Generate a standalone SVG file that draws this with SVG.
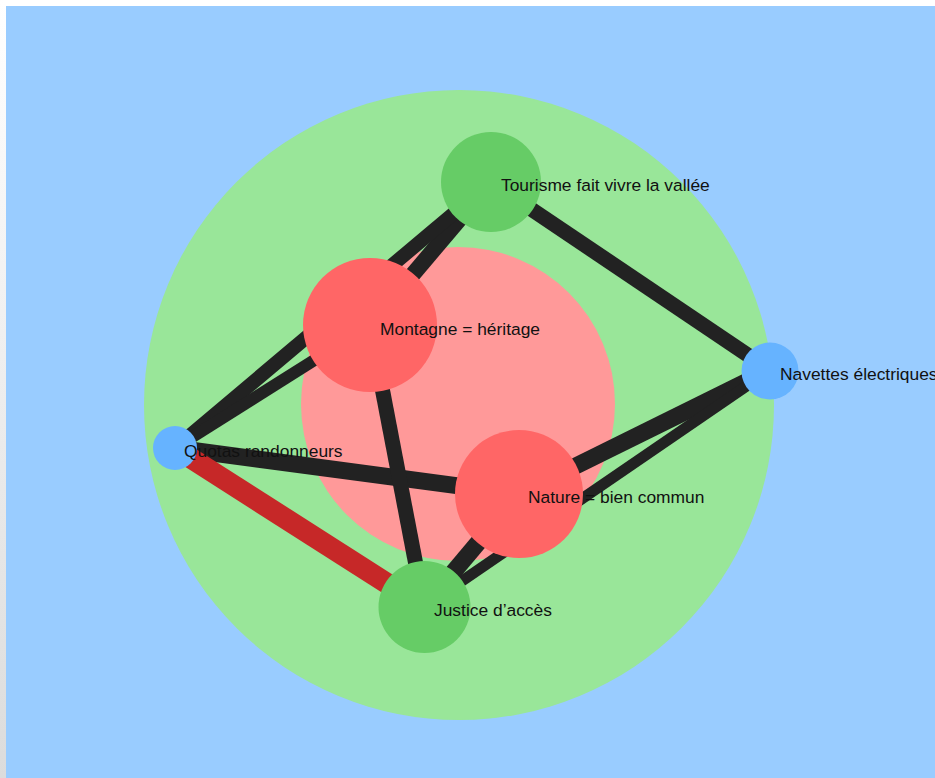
<svg xmlns="http://www.w3.org/2000/svg" width="935" height="778" viewBox="0 0 935 778">
<defs>
<linearGradient id="side" x1="0" y1="0" x2="0" y2="1"><stop offset="0" stop-color="#ffffff"/><stop offset="1" stop-color="#dcdcdc"/></linearGradient>
<style>
.edge{stroke:#222222;stroke-linecap:butt;fill:none}
.red{stroke:#c62828}
.lbl{font-family:"Liberation Sans",Arial,sans-serif;font-size:17.4px;fill:#111111}
.ng{fill:#66cc66}.nr{fill:#ff6666}.nb{fill:#66b3ff}
</style>
</defs>
<rect x="0" y="0" width="935" height="778" fill="#ffffff"/>
<rect x="0" y="0" width="6" height="778" fill="url(#side)"/>
<rect x="6" y="6" width="929" height="772" fill="#99ccff"/>
<circle id="zone-green" cx="459" cy="405" r="315" fill="#99e699"/>
<circle id="zone-red" cx="458" cy="404" r="157" fill="#ff9999"/>
<g id="connectors">
<line class="edge" x1="491" y1="182" x2="370" y2="325" stroke-width="16"/>
<line class="edge" x1="175" y1="448" x2="491" y2="182" stroke-width="14"/>
<line class="edge" x1="175" y1="448" x2="370" y2="325" stroke-width="12"/>
<line class="edge" x1="491" y1="182" x2="770" y2="370" stroke-width="15"/>
<line class="edge" x1="770" y1="370" x2="519" y2="494" stroke-width="17"/>
<line class="edge" x1="424" y1="607" x2="770" y2="370" stroke-width="11"/>
<line class="edge" x1="175" y1="448" x2="519" y2="494" stroke-width="17"/>
<line class="edge" x1="370" y1="325" x2="424" y2="607" stroke-width="15"/>
<line class="edge" x1="424" y1="607" x2="519" y2="494" stroke-width="17"/>
<line class="edge red" x1="175" y1="448" x2="424" y2="607" stroke-width="21"/>
</g>
<g id="node-tourisme"><circle class="ng" cx="491" cy="182" r="50"/><text class="lbl" x="501" y="191">Tourisme fait vivre la vallée</text></g>
<g id="node-montagne"><circle class="nr" cx="370" cy="325" r="67"/><text class="lbl" x="380" y="335">Montagne = héritage</text></g>
<g id="node-navettes"><circle class="nb" cx="770" cy="371" r="28.5"/><text class="lbl" x="780" y="380">Navettes électriques</text></g>
<g id="node-quotas"><circle class="nb" cx="175" cy="448" r="22"/><text class="lbl" x="184" y="457">Quotas randonneurs</text></g>
<g id="node-nature"><circle class="nr" cx="519" cy="494" r="64"/><text class="lbl" x="528" y="503">Nature = bien commun</text></g>
<g id="node-justice"><circle class="ng" cx="424.5" cy="607" r="46"/><text class="lbl" x="434" y="616">Justice d’accès</text></g>
</svg>
